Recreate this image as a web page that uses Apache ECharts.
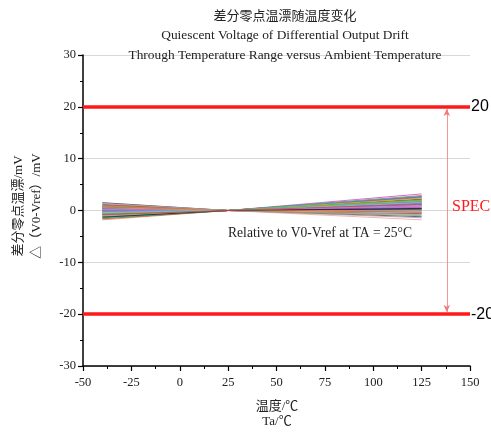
<!DOCTYPE html>
<html><head><meta charset="utf-8">
<script src="https://cdn.jsdelivr.net/npm/echarts@6/dist/echarts.min.js"></script>
<style>html,body{margin:0;padding:0;background:#fff}#c{width:491px;height:432px}</style>
</head><body><div id="c"></div>
<script>
var temps = [-40, 25, 125];
var startVals = [1.5,-0.3,1.2,0.6,-1.1,0.2,0.85,-0.6,0.4,1.0,-0.15,-1.8,0.7,0.05,-0.45,1.3,-0.8,0.3,-0.05,0.9,-1.4,0.15,-0.25,0.5,-0.7,1.1,0.0,-1.2,0.35,-0.5,0.65,-0.1,-1.6,0.45,-0.35,0.8,-0.9,0.25,-0.2,0.55,-1.0,0.1,-0.55,-1.5,0.75,-0.4,1.4,-0.65,-1.3,-0.85];
var endVals = [-0.6,2.1,0.4,1.3,3.2,0.9,-1.2,1.7,0.2,2.6,1.0,2.4,-0.3,1.5,0.7,-1.8,1.9,0.5,1.2,-0.8,2.9,0.8,1.6,0.1,2.2,-0.4,1.1,1.8,0.6,2.0,0.3,1.4,2.7,-0.1,1.3,0.0,2.5,0.9,1.7,-0.5,1.9,1.0,2.3,2.8,-1.0,1.5,-1.4,2.0,0.4,1.2];
var refVal = 0;
var specUpper = 20, specLower = -20;
var xTicks = [-50, 150, 25];
var yTicks = [-30, 30, 10];

var palette = ['#1f1f1f','#e8413b','#3b5bdb','#2e9e44','#d63fd6','#9a9a2a','#2a3a8a','#8a3aa0','#9a2a3a','#2a9a9a','#5b7fe8','#f08a24','#8a5cf0','#f04a9a','#909090','#f5a0a0','#88d088','#8fa8f0','#e0c020','#30c0c0','#c08a30','#80c0f0','#a0a0a0','#60b060'];

var series = [];
for (var i = 0; i < startVals.length; i++) {
  series.push({
    type: 'line', symbol: 'none', silent: true, z: 2,
    lineStyle: {width: 0.8, color: palette[i % palette.length]},
    data: [[temps[0], startVals[i]], [temps[1], refVal], [temps[2], endVals[i]]]
  });
}
series.push({
  type: 'line', data: [], z: 5, silent: true,
  markLine: {
    silent: true, symbol: 'none', animation: false,
    data: [
      {yAxis: specUpper, lineStyle: {color: '#ff1a1a', width: 3.5, type: 'solid'},
       label: {show: true, position: 'end', formatter: String(specUpper), color: '#000', fontFamily: 'Liberation Sans', fontSize: 16, distance: 1}},
      {yAxis: specLower, lineStyle: {color: '#ff1a1a', width: 3.5, type: 'solid'},
       label: {show: true, position: 'end', formatter: String(specLower), color: '#000', fontFamily: 'Liberation Sans', fontSize: 16, distance: 1}}
    ]
  }
});
series.push({
  type: 'line', data: [], z: 4, silent: true,
  markLine: {
    silent: true, animation: false, symbol: ['arrow', 'arrow'], symbolSize: [5, 7],
    lineStyle: {color: '#f47a7a', width: 0.8, type: 'solid'},
    label: {show: false},
    data: [[{coord: [138, specUpper - 0.4]}, {coord: [138, specLower + 0.4]}]]
  }
});

var serif = 'Liberation Serif, "Noto Sans CJK SC", serif';
var chart = echarts.init(document.getElementById('c'));
chart.setOption({
  animation: false,
  grid: {left: 83, right: 21, top: 55, bottom: 66},
  title: [
    {text: '差分零点温漂随温度变化', left: 280, top: 5, textAlign: 'center', textStyle: {fontFamily: serif, fontSize: 13, fontWeight: 'normal', color: '#222'}},
    {text: 'Quiescent Voltage of Differential Output Drift', left: 280, top: 24, textAlign: 'center', textStyle: {fontFamily: serif, fontSize: 13.4, fontWeight: 'normal', color: '#222'}},
    {text: 'Through Temperature Range versus Ambient Temperature', left: 280, top: 44, textAlign: 'center', textStyle: {fontFamily: serif, fontSize: 13.4, fontWeight: 'normal', color: '#222'}}
  ],
  graphic: [
    {type: 'text', x: 228, y: 233, z: 10, style: {text: 'Relative to V0-Vref at TA = 25°C', font: '13.6px ' + serif, fill: '#222', textVerticalAlign: 'middle'}},
    {type: 'text', x: 452, y: 207, z: 10, style: {text: 'SPEC', font: '16px ' + serif, fill: '#ff1a1a', textVerticalAlign: 'middle'}},
    {type: 'text', x: 277, y: 407, style: {text: '温度/℃', font: '13px ' + serif, fill: '#222', textAlign: 'center', textVerticalAlign: 'middle'}},
    {type: 'text', x: 277, y: 422, style: {text: 'Ta/℃', font: '13px ' + serif, fill: '#222', textAlign: 'center', textVerticalAlign: 'middle'}},
    {type: 'text', x: 19, y: 206, rotation: Math.PI / 2,
     style: {text: '差分零点温漂/mV', font: '13px ' + serif, fill: '#222', textAlign: 'center', textVerticalAlign: 'middle'}},
    {type: 'text', x: 37, y: 206, rotation: Math.PI / 2,
     style: {text: '△（V0-Vref）/mV', font: '13px ' + serif, fill: '#222', textAlign: 'center', textVerticalAlign: 'middle'}}
  ],
  xAxis: {
    type: 'value', min: xTicks[0], max: xTicks[1], interval: xTicks[2],
    axisLine: {show: true, onZero: false, lineStyle: {color: '#000', width: 1.5}},
    axisTick: {show: true, inside: false, length: 5, lineStyle: {color: '#000', width: 1.2}},
    minorTick: {show: true, splitNumber: 2, length: 3, lineStyle: {color: '#000', width: 1}},
    axisLabel: {fontFamily: serif, fontSize: 12.5, color: '#222', margin: 10},
    splitLine: {show: false}
  },
  yAxis: {
    type: 'value', min: yTicks[0], max: yTicks[1], interval: yTicks[2],
    axisLine: {show: true, onZero: false, lineStyle: {color: '#000', width: 1.5}},
    axisTick: {show: true, inside: false, length: 5, lineStyle: {color: '#000', width: 1.2}},
    minorTick: {show: true, splitNumber: 2, length: 3, lineStyle: {color: '#000', width: 1}},
    axisLabel: {fontFamily: serif, fontSize: 12.5, color: '#222', margin: 7},
    splitLine: {show: true, lineStyle: {color: '#d8d8d8', width: 1}}
  },
  series: series
});
</script></body></html>
